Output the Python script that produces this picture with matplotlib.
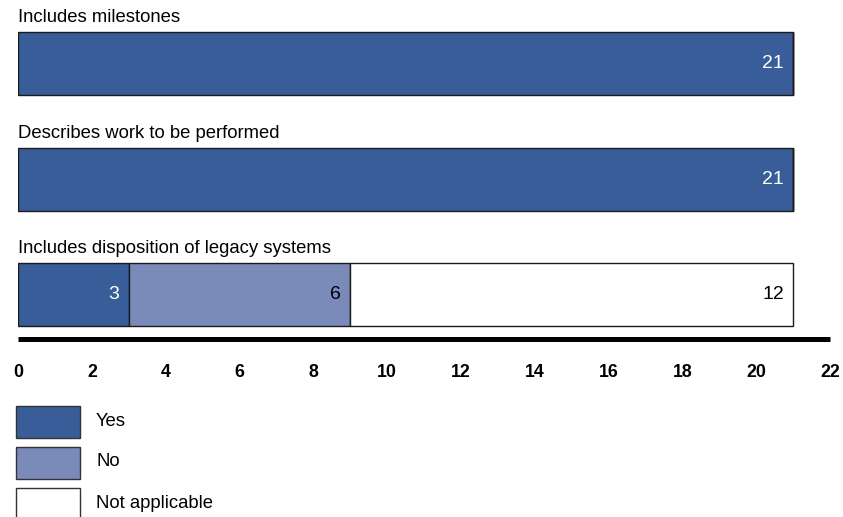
import matplotlib
matplotlib.use("Agg")
import matplotlib.pyplot as plt
from matplotlib.patches import Rectangle

plt.rcParams["font.family"] = ["Liberation Sans", "DejaVu Sans"]

categories = ["Includes milestones", "Describes work to be performed",
              "Includes disposition of legacy systems"]
yes = [21, 21, 3]
no = [0, 0, 6]
not_applicable = [0, 0, 12]
series_names = ["Yes", "No", "Not applicable"]
colors = ["#385D99", "#7A8AB9", "#FFFFFF"]
text_colors = ["white", "black", "black"]
xticks = list(range(0, 23, 2))

W, H = 843, 517
fig = plt.figure(figsize=(W / 100, H / 100), dpi=100)
ax = fig.add_axes([18 / W, 178 / H, 812 / W, 339 / H])

ypos = range(len(categories))
left = [0] * len(categories)
for vals, col, tcol in zip([yes, no, not_applicable], colors, text_colors):
    ax.barh(ypos, vals, left=left, height=0.545, color=col,
            edgecolor="#1a1a1a", linewidth=1.0)
    for i, v in enumerate(vals):
        if v > 0:
            ax.text(left[i] + v - 0.25, i, str(v), ha="right", va="center",
                    fontsize=14, color=tcol)
    left = [l + v for l, v in zip(left, vals)]

for i, cat in enumerate(categories):
    ax.text(0, i - 0.395, cat, ha="left", va="center", fontsize=13.3)

ax.set_xlim(0, 22)
ax.set_ylim(2.385, -0.55)
ax.set_xticks(xticks)
ax.set_xticklabels([str(t) for t in xticks], fontsize=12.8, fontweight="bold")
ax.tick_params(axis="x", length=0, pad=18)
ax.set_yticks([])
for s in ["top", "left", "right"]:
    ax.spines[s].set_visible(False)
ax.spines["bottom"].set_linewidth(3.6)
ax.spines["bottom"].set_color("black")
ax.spines["bottom"].set_capstyle("butt")

# legend drawn by hand (boxes stacked below the axis)
for k, (name, col) in enumerate(zip(series_names, colors)):
    top = 406 + 41 * k
    fig.patches.append(Rectangle((16 / W, 1 - (top + 32) / H), 64 / W, 32 / H,
                                 transform=fig.transFigure, facecolor=col,
                                 edgecolor="#333333", linewidth=1.0))
    fig.text(96 / W, 1 - (top + 15) / H, name, ha="left", va="center",
             fontsize=13.3)

fig.savefig("out.png", dpi=100)
